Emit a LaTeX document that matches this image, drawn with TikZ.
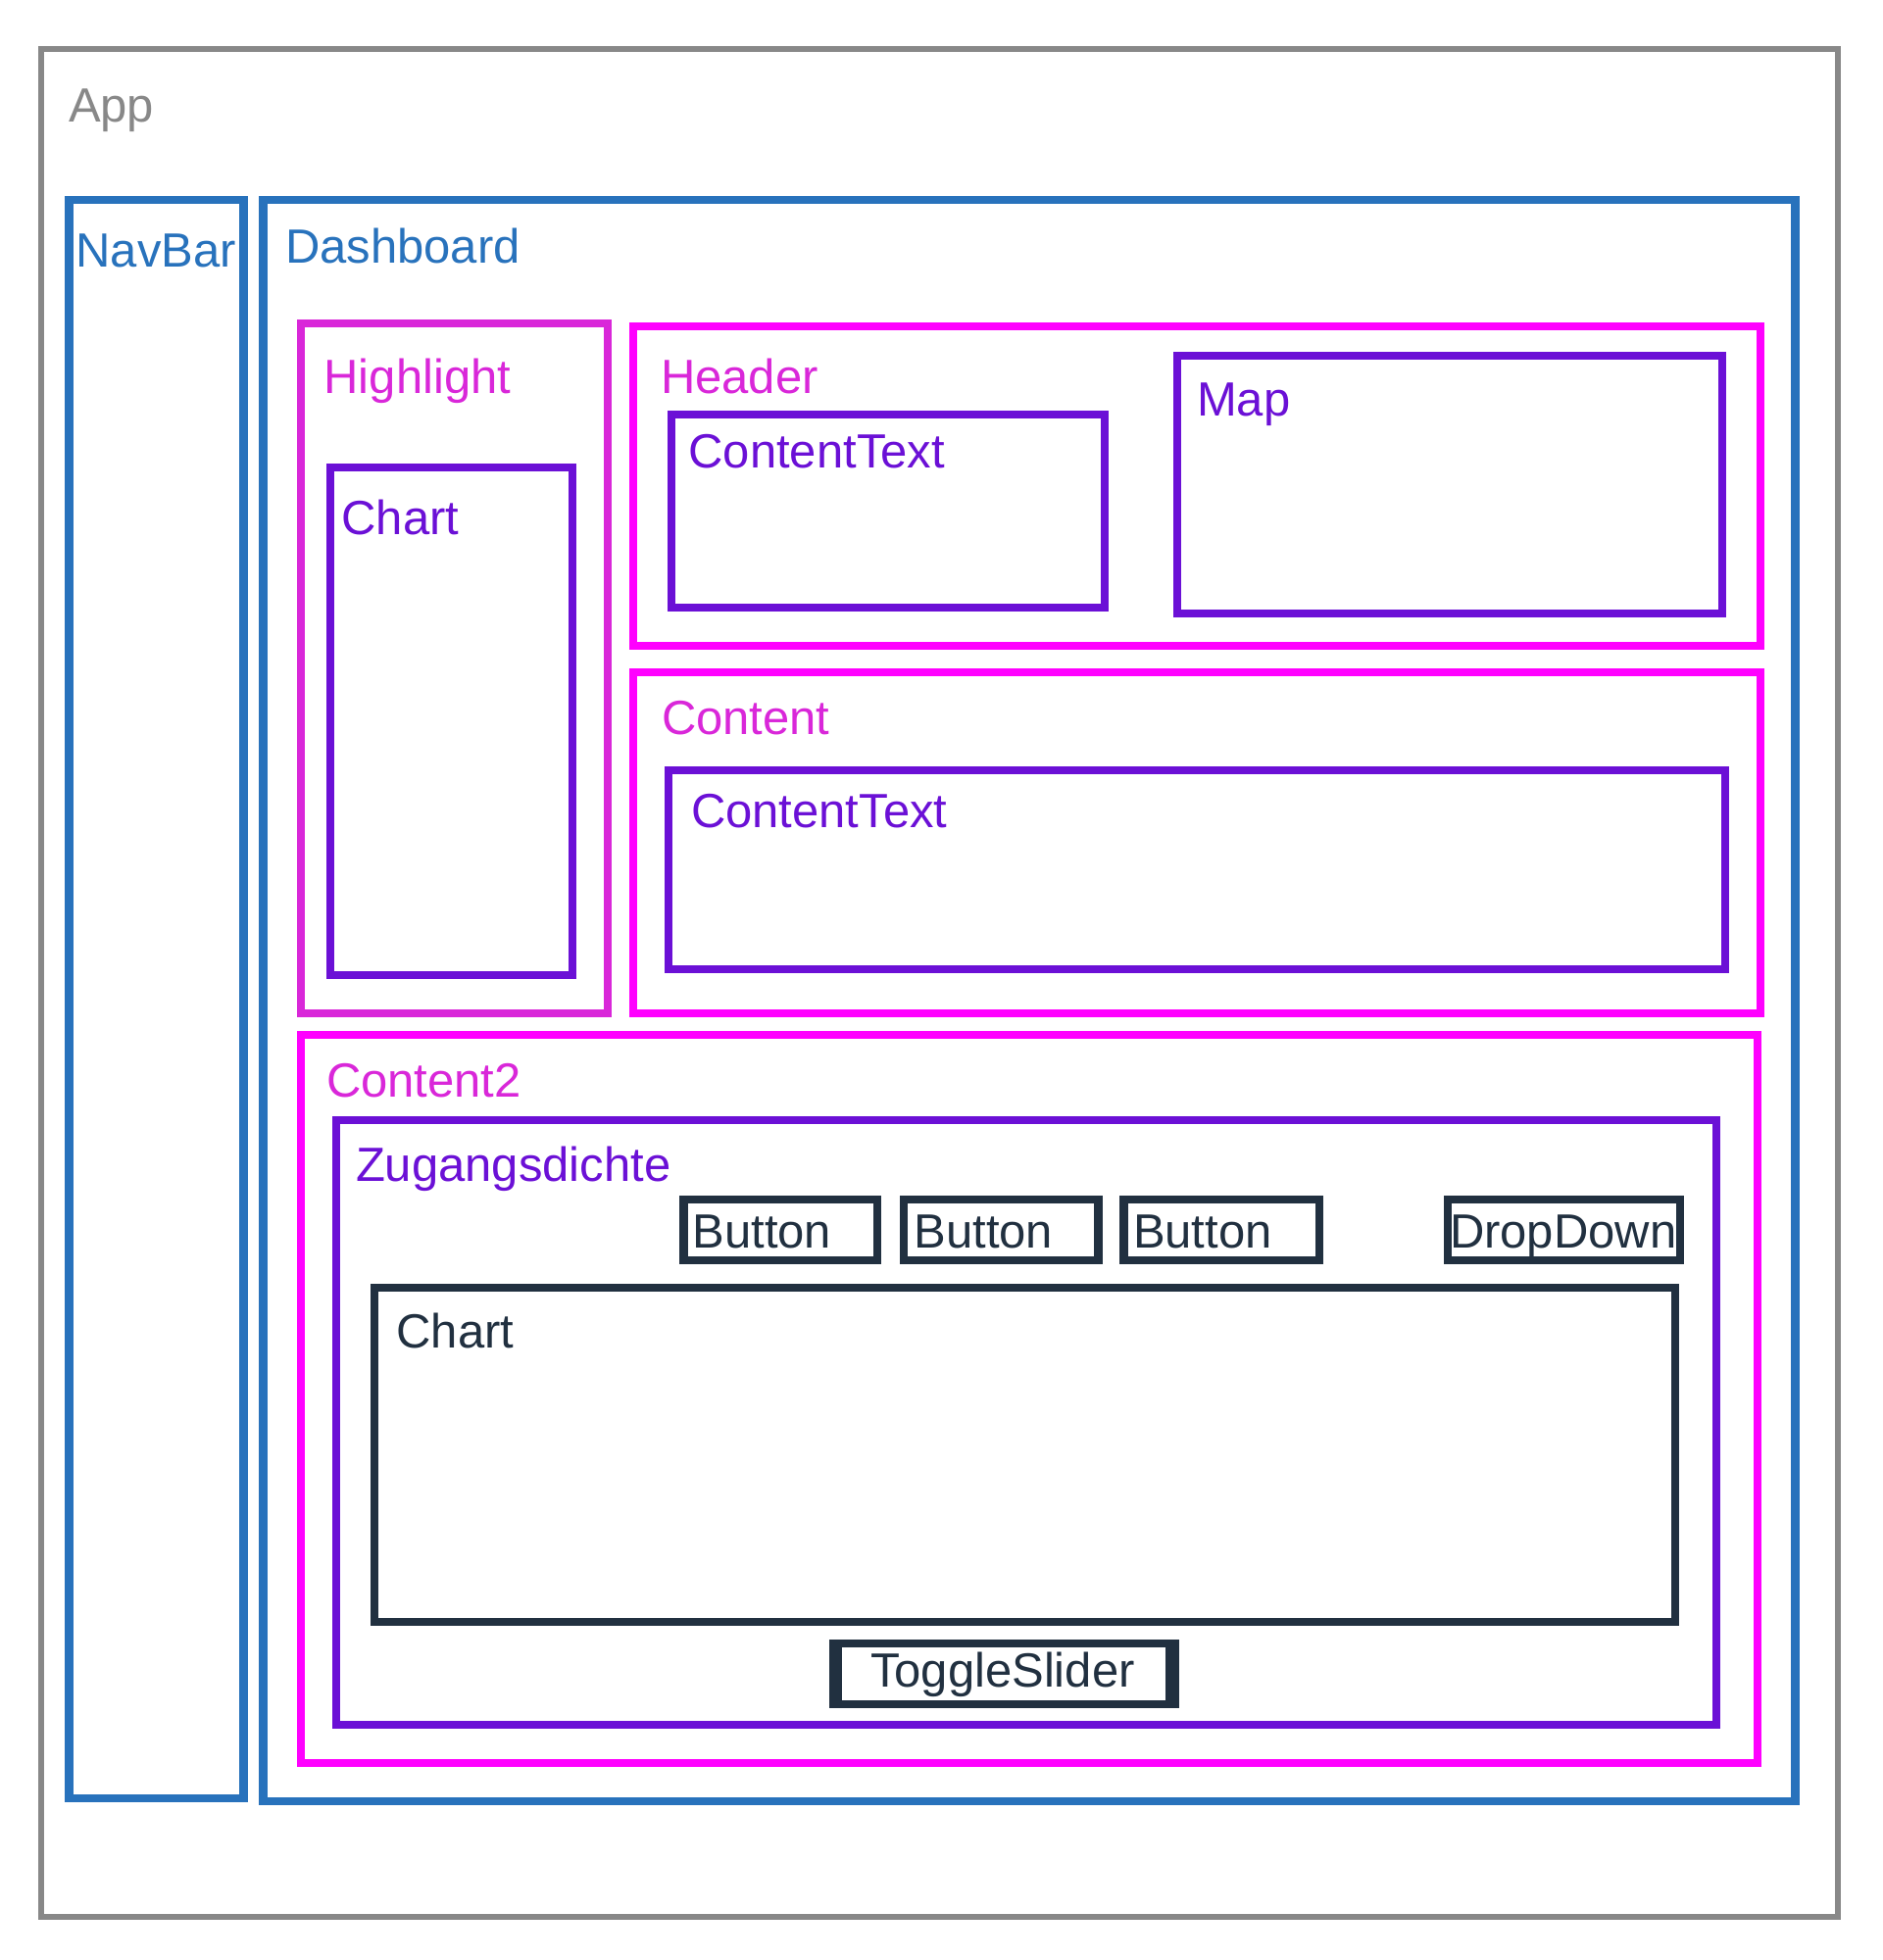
\documentclass[tikz,border=0pt]{standalone}
\usepackage{fontspec}
\setmainfont{Liberation Sans}

\definecolor{appgray}{HTML}{888888}
\definecolor{layoutblue}{HTML}{2872BC}
\definecolor{hlmagenta}{HTML}{D927D9}
\definecolor{secmagenta}{HTML}{FF00FF}
\definecolor{widgetpurple}{HTML}{6B10D6}
\definecolor{ctrldark}{HTML}{213040}

\newcommand\lblfont{\fontsize{49}{59}\selectfont}
% \uibox[style]{name}{x1}{y1}{x2}{y2}: rectangle whose stroke runs through the given corners
\newcommand\uibox[6][]{%
  \node[uibox,#1,minimum width={#5pt-#3pt},minimum height={#6pt-#4pt}]
    (#2) at ({(#3+#5)/2},{(#4+#6)/2}) {};}

\begin{document}
\begin{tikzpicture}[x=1pt,y=-1pt,
  uibox/.style={draw,rectangle,inner sep=0pt,outer sep=0pt,line width=8pt},
  appframe/.style={draw=appgray,line width=6pt},
  layout/.style={draw=layoutblue,line width=8.5pt},
  highlightframe/.style={draw=hlmagenta},
  section/.style={draw=secmagenta},
  widget/.style={draw=widgetpurple},
  control/.style={draw=ctrldark,line width=8.5pt},
  lbl/.style={anchor=base west,inner sep=0pt,outer sep=0pt,font=\lblfont},
  lblgray/.style={lbl,text=appgray},
  lblblue/.style={lbl,text=layoutblue},
  lblmag/.style={lbl,text=hlmagenta},
  lblpurple/.style={lbl,text=widgetpurple},
  lbldark/.style={lbl,text=ctrldark}]

\useasboundingbox (0,0) rectangle (1920,2000);

% outer application frame
\uibox[appframe]{app}{42}{50.3}{1875}{1955.7}
\node[lblgray] (appL) at (70,124) {App};

% navigation bar and dashboard
\uibox[layout]{navbar}{70.5}{204}{248.5}{1835}
\node[lblblue] (navbarL) at (77.5,272) {NavBar};
\uibox[layout]{dashboard}{268.5}{204}{1831.5}{1838}
\node[lblblue] (dashboardL) at (291,268) {Dashboard};

% highlight column
\uibox[highlightframe]{highlight}{307}{329.5}{620}{1034}
\node[lblmag] (highlightL) at (330.5,401.7) {Highlight};
\uibox[widget]{chartA}{337}{477}{584}{994.7}
\node[lblpurple] (chartAL) at (348.5,545.7) {Chart};

% header section
\uibox[section]{header}{646}{333}{1796}{658.7}
\node[lblmag] (headerL) at (674,401.7) {Header};
\uibox[widget]{ctextA}{685}{423}{1127}{619.5}
\node[lblpurple] (ctextAL) at (702.5,477.7) {ContentText};
\uibox[widget]{map}{1201}{363}{1757}{626}
\node[lblpurple] (mapL) at (1221,424.3) {Map};

% content section
\uibox[section]{content}{646}{686}{1796}{1033.5}
\node[lblmag] (contentL) at (675,749.3) {Content};
\uibox[widget]{ctextB}{682}{786}{1760}{988.5}
\node[lblpurple] (ctextBL) at (705,844.3) {ContentText};

% second content section
\uibox[section]{contentB}{307}{1056}{1793}{1799}
\node[lblmag] (contentBL) at (333,1119) {Content2};
\uibox[widget]{zugang}{343}{1143}{1751}{1760}
\node[lblpurple] (zugangL) at (363,1205) {Zugangsdichte};

% controls
\uibox[control]{btnA}{697.7}{1224}{895}{1286}
\node[lbldark] (btnAL) at (706.5,1273) {Button};
\uibox[control]{btnB}{922}{1224}{1120.5}{1286}
\node[lbldark] (btnBL) at (932.5,1273) {Button};
\uibox[control]{btnC}{1146.5}{1224}{1346}{1286}
\node[lbldark] (btnCL) at (1156,1273) {Button};
\uibox[control]{dropdown}{1477}{1224}{1714}{1286}
\node[lbldark] (dropdownL) at (1479,1273.7) {DropDown};

\uibox[control,line width=8pt]{chartB}{382}{1314}{1709}{1655}
\node[lbldark] (chartBL) at (404.5,1375) {Chart};

% toggle slider: heavier side borders
\node[rectangle,fill=ctrldark,inner sep=0pt,outer sep=0pt,
      minimum width=356.7pt,minimum height=69.7pt] (toggle) at (1024.35,1707.85) {};
\fill[white] ([xshift=13.3pt,yshift=-8pt]toggle.north west) rectangle ([xshift=-13.3pt,yshift=8pt]toggle.south east);
\node[lbldark] (toggleL) at (888,1721) {ToggleSlider};

\end{tikzpicture}
\end{document}
